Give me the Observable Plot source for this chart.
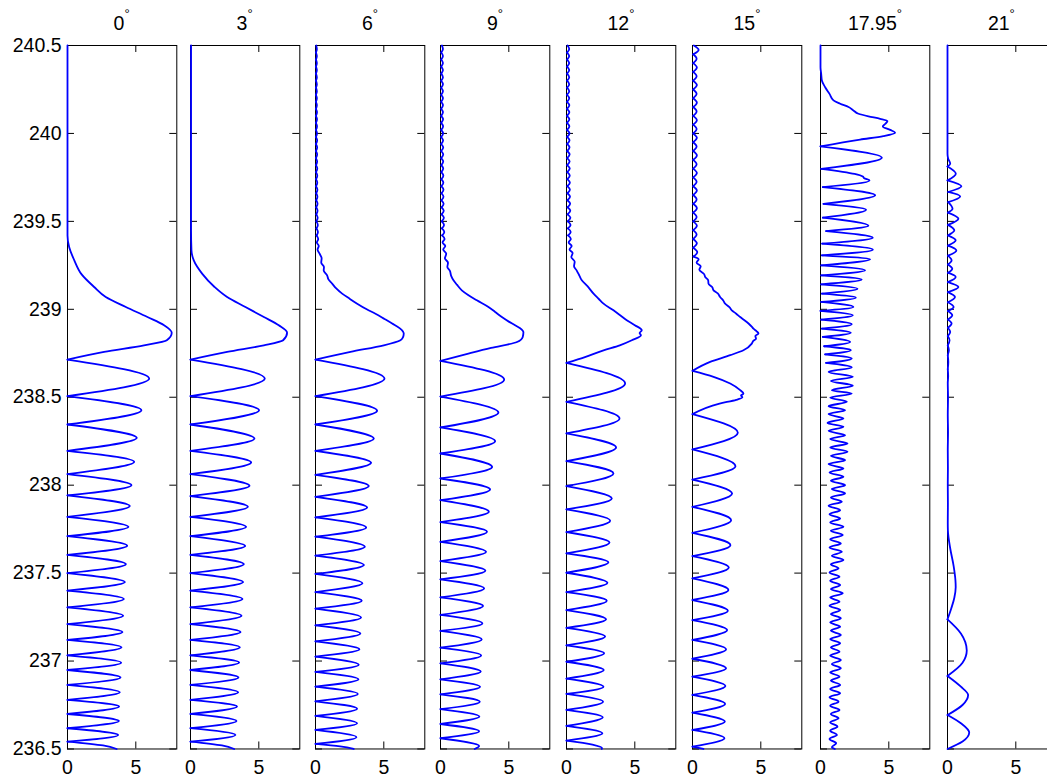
<!DOCTYPE html>
<html><head><meta charset="utf-8">
<script src="https://cdn.jsdelivr.net/npm/d3@7"></script>
<script src="https://cdn.jsdelivr.net/npm/@observablehq/plot@0.6"></script>
<style>
html,body{margin:0;padding:0;background:#fff;overflow:hidden;width:1047px;height:778px}
#chart{position:relative;width:1047px;height:778px;overflow:hidden;background:#fff;font-family:"Liberation Sans",Arial,Helvetica,sans-serif}
.title{position:absolute;top:13.5px;font-size:19.5px;line-height:19.5px;white-space:nowrap;transform:translateX(-50%);color:#000}
.title sup{font-size:13px;vertical-align:baseline;position:relative;top:-11.5px;line-height:0}
</style></head><body><div id="chart"></div>
<script>
// ---- data: panel titles (angle in degrees), ticks, curves as [energy, intensity] ----
const angles = ["0", "3", "6", "9", "12", "15", "17.95", "21"];
const yTicks = [236.5, 237, 237.5, 238, 238.5, 239, 239.5, 240, 240.5];
const xTicks = [0, 5];

const curve0 = [[240.5,0],[239.42,0],[239.354,0.12],[239.28,0.49],[239.2,1.02],[239.127,1.95],[239.07,2.8],[239.013,4.27],[238.956,5.85],[238.909,7.07],[238.867,7.63],[238.824,7.27],[238.795,5.6],[238.758,2.68],[238.714,0],
[238.606,5.98],[238.506,0],[238.426,5.41],[238.345,0],[238.269,5.07],[238.195,0],[238.133,4.88],[238.063,0],[238.0,4.68],[237.942,0],[237.881,4.56],[237.82,0],[237.763,4.46],[237.71,0],[237.656,4.37],[237.604,0],[237.551,4.27],[237.5,0],[237.449,4.2],[237.4,0],[237.353,4.12],[237.305,0],[237.258,4.07],[237.21,0],[237.165,4.02],[237.12,0],[237.078,3.95],[237.032,0],[236.991,3.93],[236.949,0],[236.907,3.88],[236.864,0],[236.822,3.83],[236.779,0],[236.741,3.78],[236.699,0],[236.659,3.76],[236.618,0],[236.58,3.71],[236.542,0],[236.52,2.6],[236.5,3.6]];

const curve3 = [[240.5,0.04],[239.45,0.04],[239.335,0.07],[239.278,0.24],[239.203,0.85],[239.127,1.76],[239.07,2.68],[239.013,4.02],[238.956,5.37],[238.909,6.46],[238.867,7.07],[238.824,6.78],[238.795,5.37],[238.758,2.68],[238.714,0],
[238.606,5.44],[238.506,0],[238.426,5.02],[238.345,0],[238.265,4.68],[238.195,0],[238.129,4.44],[238.063,0],[237.996,4.32],[237.938,0],[237.877,4.2],[237.82,0],[237.763,4.07],[237.71,0],[237.654,4.0],[237.604,0],[237.551,3.9],[237.5,0],[237.449,3.85],[237.4,0],[237.353,3.8],[237.305,0],[237.258,3.73],[237.21,0],[237.165,3.66],[237.12,0],[237.078,3.61],[237.032,0],[236.991,3.56],[236.949,0],[236.907,3.51],[236.864,0],[236.822,3.49],[236.779,0],[236.741,3.41],[236.699,0],[236.659,3.37],[236.618,0],[236.58,3.29],[236.542,0],[236.52,2.3],[236.5,3.2]];

const curve6 = [[240.5,0.05],[240.48,0.1],[240.46,0.03],[240.44,0.1],[240.42,0.03],[240.4,0.1],[240.38,0.03],[240.36,0.1],[240.34,0.03],[240.32,0.1],[240.3,0.03],[240.28,0.1],[240.26,0.03],[240.24,0.1],[240.22,0.03],[240.2,0.1],[240.18,0.03],[240.16,0.1],[240.14,0.03],[240.12,0.11],[240.1,0.03],[240.08,0.11],[240.06,0.03],[240.04,0.11],[240.02,0.03],[240,0.11],[239.98,0.03],[239.96,0.12],[239.94,0.03],[239.92,0.12],[239.9,0.03],[239.88,0.12],[239.86,0.03],[239.84,0.12],[239.82,0.04],[239.8,0.13],[239.78,0.04],[239.76,0.13],[239.74,0.04],[239.72,0.13],[239.7,0.04],[239.68,0.14],[239.66,0.05],[239.64,0.14],[239.62,0.05],[239.6,0.15],[239.58,0.05],[239.56,0.15],[239.54,0.06],[239.52,0.16],[239.5,0.06],[239.48,0.17],[239.46,0.07],
[239.44,0.18],[239.42,0.08],[239.4,0.2],[239.38,0.1],[239.36,0.24],[239.34,0.15],[239.316,0.3],[239.29,0.45],[239.265,0.42],[239.24,0.62],[239.22,0.6],[239.193,0.85],[239.17,0.95],[239.146,1.22],[239.12,1.5],[239.089,1.95],[239.06,2.5],[239.032,3.05],[239.0,3.75],[238.975,4.39],[238.945,5.05],[238.919,5.61],[238.89,6.2],[238.862,6.46],[238.84,6.4],[238.824,6.22],[238.795,5.0],[238.758,2.56],[238.714,0],
[238.606,5.05],[238.506,0],[238.423,4.51],[238.345,0],[238.265,4.27],[238.195,0],[238.127,4.07],[238.059,0],[237.995,3.9],[237.934,0],[237.873,3.78],[237.817,0],[237.76,3.71],[237.707,0],[237.65,3.61],[237.599,0],[237.546,3.54],[237.495,0],[237.442,3.44],[237.392,0],[237.343,3.39],[237.298,0],[237.248,3.34],[237.203,0],[237.157,3.29],[237.112,0],[237.067,3.22],[237.025,0],[236.979,3.17],[236.938,0],[236.896,3.15],[236.854,0],[236.813,3.1],[236.771,0],[236.729,3.05],[236.688,0],[236.646,3.05],[236.608,0],[236.567,3.0],[236.529,0],[236.515,1.8],[236.5,2.8]];

const curve9 = [[240.5,0.1],[240.48,0.18],[240.46,0.05],[240.44,0.18],[240.42,0.05],[240.4,0.18],[240.38,0.05],[240.36,0.18],[240.34,0.05],[240.32,0.18],[240.3,0.05],[240.28,0.18],[240.26,0.05],[240.24,0.18],[240.22,0.05],[240.2,0.18],[240.18,0.05],[240.16,0.18],[240.14,0.05],[240.12,0.18],[240.1,0.05],[240.08,0.19],[240.06,0.05],[240.04,0.19],[240.02,0.05],[240,0.19],[239.98,0.05],[239.96,0.19],[239.94,0.05],[239.92,0.2],[239.9,0.05],[239.88,0.2],[239.86,0.05],[239.84,0.2],[239.82,0.06],[239.8,0.2],[239.78,0.06],[239.76,0.21],[239.74,0.06],[239.72,0.21],[239.7,0.06],[239.68,0.22],[239.66,0.07],[239.64,0.22],[239.62,0.07],[239.6,0.23],[239.58,0.08],[239.56,0.24],[239.54,0.08],[239.52,0.25],[239.5,0.09],[239.48,0.26],[239.46,0.1],[239.44,0.28],[239.42,0.12],
[239.4,0.3],[239.38,0.15],[239.36,0.35],[239.34,0.2],[239.316,0.42],[239.29,0.32],[239.265,0.55],[239.24,0.5],[239.22,0.68],[239.19,0.78],[239.165,0.95],[239.14,1.2],[239.108,1.56],[239.08,2.05],[239.051,2.66],[239.013,3.51],[238.985,4.0],[238.956,4.49],[238.93,5.0],[238.909,5.46],[238.885,5.95],[238.871,6.07],[238.843,6.02],[238.814,5.6],[238.78,3.7],[238.745,1.9],[238.707,0],
[238.6,4.66],[238.504,0],[238.413,4.24],[238.328,0],[238.25,4.0],[238.18,0],[238.104,3.78],[238.038,0],[237.976,3.63],[237.915,0],[237.849,3.54],[237.79,0],[237.735,3.41],[237.678,0],[237.621,3.34],[237.568,0],[237.513,3.29],[237.464,0],[237.413,3.2],[237.362,0],[237.313,3.12],[237.262,0],[237.214,3.07],[237.171,0],[237.123,3.02],[237.076,0],[237.032,2.98],[236.987,0],[236.94,2.95],[236.896,0],[236.854,2.9],[236.811,0],[236.769,2.88],[236.726,0],[236.684,2.85],[236.642,0],[236.601,2.83],[236.561,0],[236.517,2.83],[236.5,2.5]];

const curve12 = [[240.5,0.08],[240.48,0.2],[240.46,0.04],[240.44,0.2],[240.42,0.04],[240.4,0.2],[240.38,0.04],[240.36,0.2],[240.34,0.04],[240.32,0.2],[240.3,0.04],[240.28,0.2],[240.26,0.04],[240.24,0.2],[240.22,0.04],[240.2,0.2],[240.18,0.04],[240.16,0.21],[240.14,0.04],[240.12,0.21],[240.1,0.04],[240.08,0.21],[240.06,0.04],[240.04,0.21],[240.02,0.04],[240,0.22],[239.98,0.05],[239.96,0.22],[239.94,0.05],[239.92,0.22],[239.9,0.05],[239.88,0.23],[239.86,0.05],[239.84,0.23],[239.82,0.05],[239.8,0.24],[239.78,0.06],[239.76,0.24],[239.74,0.06],[239.72,0.25],[239.7,0.06],[239.68,0.25],[239.66,0.07],[239.64,0.26],[239.62,0.07],[239.6,0.27],[239.58,0.08],[239.56,0.28],[239.54,0.08],[239.52,0.29],[239.5,0.09],[239.48,0.3],[239.46,0.1],[239.44,0.31],[239.42,0.12],
[239.4,0.32],[239.38,0.16],[239.36,0.38],[239.34,0.22],[239.32,0.45],[239.297,0.35],[239.27,0.6],[239.245,0.55],[239.22,0.75],[239.19,0.95],[239.165,1.12],[239.13,1.55],[239.089,1.98],[239.06,2.35],[239.032,2.71],[238.994,3.44],[238.965,3.95],[238.938,4.41],[238.91,5.0],[238.881,5.51],[238.865,5.35],[238.852,5.45],[238.824,4.78],[238.795,3.9],[238.767,2.71],[238.73,1.4],[238.695,0],
[238.578,4.29],[238.474,0],[238.379,3.88],[238.294,0],[238.214,3.63],[238.137,0],[238.067,3.44],[237.995,0],[237.924,3.32],[237.862,0],[237.798,3.2],[237.733,0],[237.674,3.15],[237.612,0],[237.561,3.07],[237.502,0],[237.445,3.0],[237.392,0],[237.343,2.95],[237.29,0],[237.237,2.9],[237.188,0],[237.139,2.83],[237.089,0],[237.044,2.76],[236.996,0],[236.949,2.73],[236.9,0],[236.854,2.71],[236.813,0],[236.769,2.68],[236.722,0],[236.68,2.66],[236.631,0],[236.589,2.63],[236.548,0],[236.525,1.9],[236.505,2.6],[236.5,2.58]];

const curve15 = [[240.5,0.1],[240.475,0.45],[240.45,0.05],[240.425,0.3],[240.4,0.05],[240.375,0.32],[240.35,0.05],[240.325,0.3],[240.3,0.05],[240.275,0.32],[240.25,0.05],[240.225,0.3],[240.2,0.05],[240.175,0.32],[240.15,0.05],[240.125,0.3],[240.1,0.05],[240.075,0.32],[240.05,0.05],[240.025,0.3],[240,0.05],[239.975,0.32],[239.95,0.05],[239.925,0.3],[239.9,0.05],[239.875,0.32],[239.85,0.05],[239.825,0.3],[239.8,0.05],[239.775,0.32],[239.75,0.05],[239.725,0.3],[239.7,0.05],[239.675,0.32],[239.65,0.05],[239.625,0.3],[239.6,0.05],[239.575,0.32],[239.55,0.05],[239.525,0.3],[239.5,0.05],[239.475,0.32],[239.45,0.05],[239.425,0.3],[239.4,0.05],[239.375,0.32],[239.35,0.05],[239.325,0.35],[239.3,0.08],
[239.285,0.45],[239.265,0.3],[239.245,0.6],[239.225,0.5],[239.2,0.85],[239.184,0.93],[239.165,1.15],[239.146,1.17],[239.125,1.45],[239.108,1.54],[239.09,1.85],[239.07,2.02],[239.05,2.25],[239.032,2.39],[239.013,2.7],[238.994,2.88],[238.975,3.2],[238.956,3.49],[238.935,3.85],[238.919,4.1],[238.9,4.35],[238.89,4.46],[238.875,4.7],[238.862,4.83],[238.848,4.6],[238.833,4.65],[238.82,4.45],[238.805,4.34],[238.767,3.73],[238.739,2.76],[238.701,1.29],[238.65,0],
[238.616,1.54],[238.578,2.76],[238.54,3.49],[238.52,3.73],[238.51,3.55],[238.5,3.65],[238.485,3.2],[238.464,1.98],[238.404,0],
[238.298,3.32],[238.203,0],[238.108,3.15],[238.032,0],[237.953,2.9],[237.877,0],[237.801,2.83],[237.729,0],[237.659,2.78],[237.597,0],[237.532,2.66],[237.47,0],[237.404,2.63],[237.347,0],[237.286,2.59],[237.233,0],[237.176,2.54],[237.12,0],[237.067,2.46],[237.013,0],[236.959,2.46],[236.911,0],[236.858,2.41],[236.807,0],[236.756,2.39],[236.707,0],[236.656,2.37],[236.608,0],[236.561,2.34],[236.513,0],[236.5,0.8]];

const curve1795 = [[240.5,0],[240.377,0],[240.339,0.05],[240.301,0.1],[240.263,0.34],[240.225,0.66],[240.188,0.95],[240.169,1.44],[240.15,2.05],[240.131,2.41],[240.112,2.78],[240.097,3.51],[240.083,4.37],[240.07,4.9],[240.055,4.75],[240.04,4.56],[240.02,5.1],[240.004,5.46],[239.985,4.6],[239.965,2.9],[239.926,0],
[239.862,4.49],[239.799,0.05],[239.77,2.5],[239.755,3.1],[239.745,3.2],[239.733,3.59],[239.695,0.17],[239.648,4.0],[239.6,0.22],[239.566,3.34],[239.521,0.17],[239.475,3.51],[239.445,0.41],[239.407,3.83],[239.373,0.12],[239.339,3.83],[239.307,0.1],[239.284,3.63],[239.25,0.05],[239.222,3.27],[239.193,0.05],[239.169,3.02],[239.142,0.05],[239.117,2.71],[239.089,0.1],[239.066,2.59],[239.042,0.05],[239.013,2.41],[238.991,0],[238.966,2.37],[238.941,0.05],[238.915,2.29],[238.89,0.1],[238.866,2.22],[238.843,0.17],[238.814,2.17],[238.79,0.27],[238.767,2.22],[238.744,0.34],[238.72,2.29],[238.695,0.41],[238.669,2.29],[238.644,0.59],[238.616,2.37],[238.593,0.76],[238.566,2.37],[238.54,0.83],[238.521,2.29],
[238.498,0.71],[238.474,1.93],[238.449,0.59],[238.426,1.8],[238.404,0.59],[238.379,1.68],[238.354,0.51],[238.332,1.68],[238.309,0.59],[238.284,1.8],[238.262,0.71],[238.237,1.98],[238.214,0.71],[238.19,1.98],[238.167,0.76],[238.142,1.8],[238.12,0.59],[238.095,1.68],[238.072,0.66],[238.048,1.68],[238.025,0.76],[238.0,1.8],[237.978,0.83],[237.953,1.8],[237.93,0.76],[237.906,1.56],[237.883,0.59],[237.858,1.44],[237.835,0.66],[237.811,1.44],[237.788,0.71],[237.763,1.68],[237.741,0.76],[237.716,1.63],[237.693,0.71],[237.669,1.49],[237.646,0.66],[237.621,1.56],[237.599,0.83],[237.574,1.68],[237.551,0.76],[237.527,1.32],[237.504,0.66],[237.479,1.39],[237.457,0.71],[237.432,1.44],[237.409,0.76],[237.385,1.63],[237.362,0.71],[237.337,1.39],[237.315,0.66],[237.29,1.44],[237.267,0.76],[237.243,1.49],[237.22,0.71],[237.195,1.44],[237.173,0.76],[237.148,1.49],[237.125,0.71],[237.101,1.44],[237.078,0.76],[237.053,1.39],[237.031,0.71],[237.006,1.49],[236.983,0.83],[236.959,1.49],[236.936,0.71],[236.911,1.39],[236.889,0.76],[236.864,1.44],[236.841,0.71],[236.817,1.44],[236.794,0.66],[236.769,1.32],[236.746,0.71],[236.722,1.39],[236.699,0.76],[236.674,1.32],[236.652,0.71],[236.627,1.24],[236.604,0.71],[236.58,1.2],[236.557,0.66],[236.532,1.15],[236.51,0.83],[236.5,1.05]];

const curve21 = [[240.5,0],[239.884,0],[239.856,0.05],[239.828,0.2],[239.812,0],[239.771,0.61],[239.733,0],[239.699,1.02],[239.667,0.05],[239.642,0.93],[239.61,0.05],[239.572,0.37],[239.55,0.03],[239.515,0.8],[239.48,0.03],[239.449,0.5],[239.42,0.03],[239.392,0.6],[239.362,0.03],[239.335,0.65],[239.305,0.03],[239.278,0.3],[239.255,0.03],[239.231,0.35],[239.208,0.03],[239.184,0.6],[239.155,0.03],[239.127,0.8],[239.098,0.03],[239.07,0.55],[239.04,0.03],[239.013,0.45],[238.99,0.03],[238.966,0.35],[238.942,0.03],[238.919,0.3],[238.895,0.03],[238.871,0.2],[238.848,0.02],[238.824,0.15],[238.795,0.02],[238.767,0.1],[238.74,0.02],[238.7,0.06],[238.66,0.02],[238.62,0.05],[238.58,0.02],[238.5,0.04],[238.4,0.02],[238.3,0.04],[238.2,0.02],[238.1,0.03],[238.0,0.02],[237.9,0.03],[237.782,0.02],
[237.74,0.03],[237.64,0.2],[237.54,0.45],[237.46,0.58],[237.42,0.6],[237.36,0.5],[237.3,0.28],[237.237,0],[237.157,0.98],[237.06,1.41],[236.99,1.1],[236.915,0],[236.854,0.98],[236.807,1.51],[236.75,1.1],[236.693,0],[236.646,0.98],[236.593,1.59],[236.542,1.1],[236.5,0]];

const curves = [curve0, curve3, curve6, curve9, curve12, curve15, curve1795, curve21];

// ---- layout ----
const panelLeft = [67, 190, 315.3, 440.3, 566.3, 692.3, 820.3, 946.7];
const W = 109.3, H = 703.5, TOP = 45, BOTTOM = 29.5, TICK = 7;
const font = '"Liberation Sans", Arial, Helvetica, sans-serif';

// split a curve into pieces at near-zero local minima so those troughs stay sharp
function pieces(pts) {
  const out = []; let seg = 0;
  pts.forEach((p, i) => {
    out.push({e: p[0], v: p[1], seg});
    const a = pts[i - 1], b = pts[i + 1];
    if (a && b && p[1] < a[1] && p[1] < b[1] && p[1] <= 0.45 && p[1] < 0.5 * Math.min(a[1], b[1])) {
      seg++;
      out.push({e: p[0], v: p[1], seg});
    }
  });
  return out;
}

const chart = document.getElementById("chart");
curves.forEach((pts, i) => {
  const mL = i === 0 ? 67 : 12, mR = 12;
  const marks = [
    Plot.frame({stroke: "#000", strokeWidth: 1}),
    Plot.tickY(yTicks, {y: d => d, insetRight: W - TICK, stroke: "#000"}),
    Plot.tickY(yTicks, {y: d => d, insetLeft: W - TICK, stroke: "#000"}),
    Plot.tickX(xTicks, {x: d => d, insetBottom: H - TICK, stroke: "#000"}),
    Plot.tickX(xTicks, {x: d => d, insetTop: H - TICK, stroke: "#000"}),
    Plot.axisX(xTicks, {anchor: "bottom", tickSize: 0, tickPadding: 11.5, label: null, tickFormat: d => String(d)}),
    Plot.line(pieces(pts), {x: "v", y: "e", z: "seg", curve: "monotone-y", stroke: "#0000ff", strokeWidth: 1.8})
  ];
  if (i === 0) marks.push(Plot.axisY(yTicks, {anchor: "left", tickSize: 0, tickPadding: 6, label: null, tickFormat: d => String(d)}));
  const svg = Plot.plot({
    width: mL + W + mR, height: TOP + H + BOTTOM,
    marginLeft: mL, marginRight: mR, marginTop: TOP, marginBottom: BOTTOM,
    x: {domain: [0, 8], label: null},
    y: i === 0 ? {domain: [236.5, 240.5], label: null} : {domain: [236.5, 240.5], label: null, axis: null},
    style: {fontFamily: font, fontSize: "19.5px", color: "#000", background: "transparent", overflow: "visible"},
    marks
  });
  svg.style.position = "absolute";
  svg.style.left = (panelLeft[i] - mL) + "px";
  svg.style.top = "0px";
  svg.style.maxWidth = "none";
  chart.append(svg);

  const t = document.createElement("div");
  t.className = "title";
  t.style.left = (panelLeft[i] + W / 2) + "px";
  t.innerHTML = angles[i] + "<sup>°</sup>";
  chart.append(t);
});
</script></body></html>
